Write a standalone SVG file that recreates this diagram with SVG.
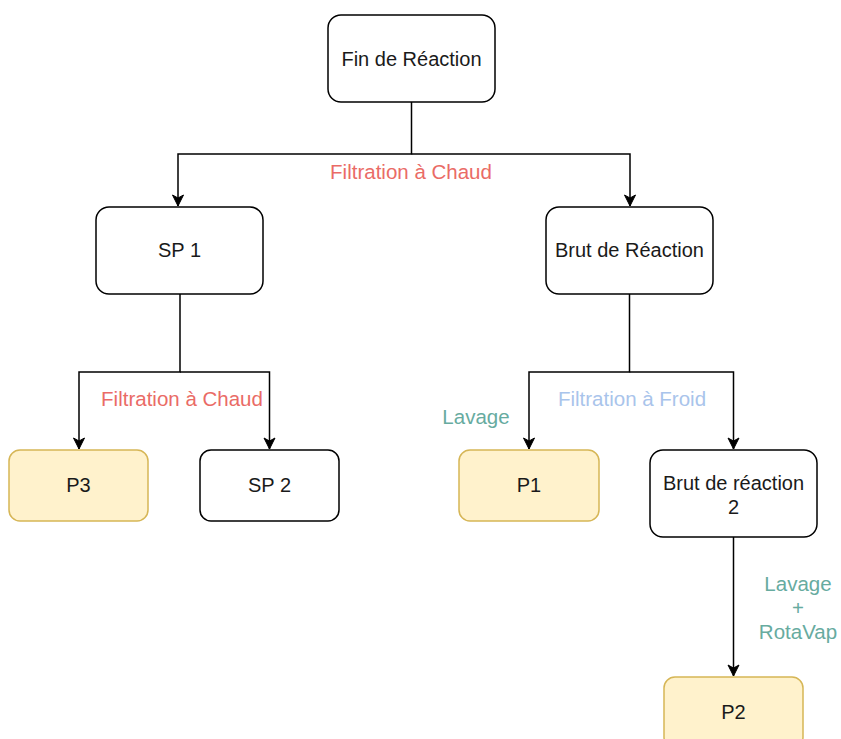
<svg xmlns="http://www.w3.org/2000/svg" width="841" height="739" viewBox="0 0 841 739">
<defs>
<style>
.n{fill:#fff;stroke:#000;stroke-width:1.5}
.y{fill:#FFF2CC;stroke:#D6B656;stroke-width:1.5}
.t{font-family:"Liberation Sans",Arial,sans-serif;font-size:20px;fill:#1a1a1a;text-anchor:middle}
.e{fill:none;stroke:#000;stroke-width:1.5}
.l{font-family:"Liberation Sans",Arial,sans-serif;font-size:20.5px;text-anchor:middle}
.red{fill:#EA6B66}
.blue{fill:#A9C4EB}
.teal{fill:#67AB9F}
</style>
<marker id="a" markerWidth="14" markerHeight="14" refX="12" refY="7" orient="auto" markerUnits="userSpaceOnUse">
<path d="M1,1.5 L12,7 L1,12.5 L4,7 Z" fill="#000" stroke="#000" stroke-width="1"/>
</marker>
</defs>
<rect width="841" height="739" fill="#fff"/>
<g id="connectors">
<path class="e" d="M411.5,102 V154 H178 V206" marker-end="url(#a)"/>
<path class="e" d="M411.5,154 H630 V206" marker-end="url(#a)"/>
<path class="e" d="M180,294 V372 H79 V449" marker-end="url(#a)"/>
<path class="e" d="M180,372 H269.5 V449" marker-end="url(#a)"/>
<path class="e" d="M629.5,294 V372 H529 V449" marker-end="url(#a)"/>
<path class="e" d="M629.5,372 H733.5 V449" marker-end="url(#a)"/>
<path class="e" d="M733.5,537 V676" marker-end="url(#a)"/>
<text class="l red" x="411" y="179">Filtration à Chaud</text>
<text class="l red" x="182" y="406">Filtration à Chaud</text>
<text class="l blue" x="632" y="406">Filtration à Froid</text>
<text class="l teal" x="476" y="424">Lavage</text>
<text class="l teal" x="798" y="591">Lavage</text>
<text class="l teal" x="798" y="615">+</text>
<text class="l teal" x="798" y="639">RotaVap</text>
</g>
<g id="fin">
<rect class="n" x="328" y="15" width="167" height="87" rx="13"/>
<text class="t" x="411.5" y="66">Fin de Réaction</text>
</g>
<g id="sp1">
<rect class="n" x="96" y="207" width="167" height="87" rx="13"/>
<text class="t" x="179.5" y="257">SP 1</text>
</g>
<g id="brut">
<rect class="n" x="546" y="207" width="167" height="87" rx="13"/>
<text class="t" x="629.5" y="257">Brut de Réaction</text>
</g>
<g id="p3">
<rect class="y" x="9" y="450" width="139" height="71" rx="11"/>
<text class="t" x="78.5" y="492">P3</text>
</g>
<g id="sp2">
<rect class="n" x="200" y="450" width="139" height="71" rx="11"/>
<text class="t" x="269.5" y="492">SP 2</text>
</g>
<g id="p1">
<rect class="y" x="459" y="450" width="140" height="71" rx="11"/>
<text class="t" x="529" y="492">P1</text>
</g>
<g id="brut2">
<rect class="n" x="650" y="450" width="167" height="87" rx="13"/>
<text class="t" x="733.5" y="490">Brut de réaction</text>
<text class="t" x="733.5" y="514">2</text>
</g>
<g id="p2">
<rect class="y" x="664" y="677" width="139" height="71" rx="11"/>
<text class="t" x="733.5" y="719">P2</text>
</g>
</svg>
